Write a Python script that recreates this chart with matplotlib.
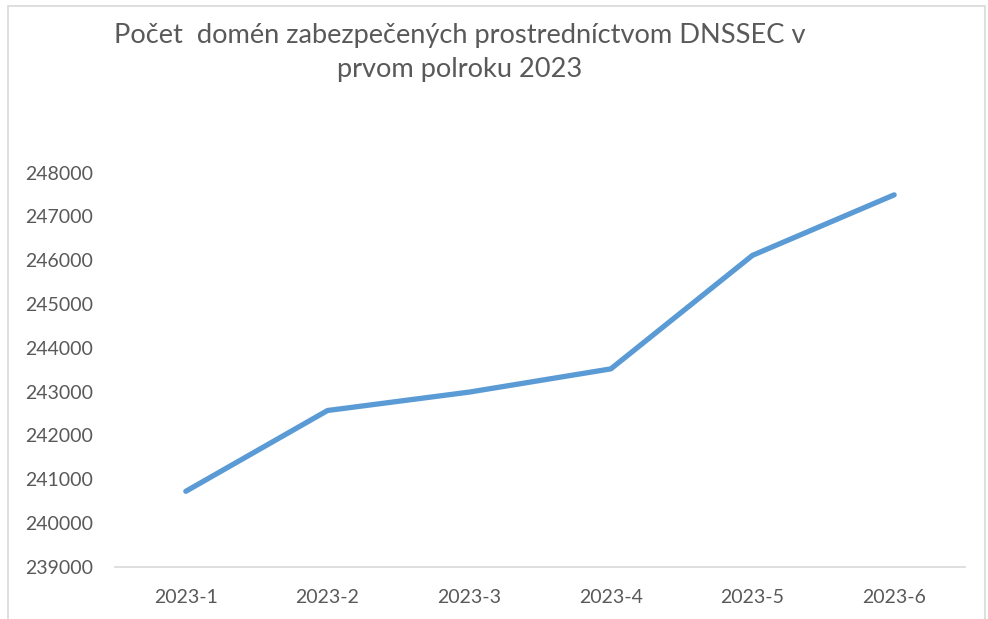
import matplotlib
matplotlib.use("Agg")
import matplotlib.pyplot as plt
from matplotlib.patches import Rectangle

categories = ["2023-1", "2023-2", "2023-3", "2023-4", "2023-5", "2023-6"]
values = [240727, 242570, 242990, 243520, 246110, 247490]
yticks = [239000, 240000, 241000, 242000, 243000, 244000, 245000, 246000, 247000, 248000]
title = "Počet  domén zabezpečených prostredníctvom DNSSEC v\nprvom polroku 2023"

W, H = 988, 619
plt.rcParams['font.family'] = ['Lato', 'DejaVu Sans']
fig = plt.figure(figsize=(W / 100, H / 100), dpi=100)
fig.patch.set_facecolor("white")

# chart border
fig.patches.append(Rectangle((8 / W, -0.05), (985 - 8) / W, 1.05 - 6 / H,
                             transform=fig.transFigure, fill=False,
                             edgecolor="#D9D9D9", linewidth=1.2))

ax = fig.add_axes([115 / W, 1 - 567 / H, (965 - 115) / W, (567 - 172.5) / H])
x = list(range(len(categories)))
ax.plot(x, values, color="#5B9BD5", linewidth=3.8, solid_capstyle="round",
        solid_joinstyle="round")
ax.set_xlim(-0.5, len(categories) - 0.5)
ax.set_ylim(239000, 248000)
ax.set_xticks(x)
ax.set_xticklabels(categories)
ax.set_yticks(yticks)
ax.set_yticklabels([str(v) for v in yticks])
for s in ["top", "right", "left"]:
    ax.spines[s].set_visible(False)
ax.spines["bottom"].set_color("#D9D9D9")
ax.spines["bottom"].set_linewidth(1.2)
ax.tick_params(length=0, colors="#595959", labelsize=14)
ax.tick_params(axis="y", pad=16)
ax.tick_params(axis="x", pad=16)
ax.set_facecolor("none")

fig.text(460 / W, 1 - 52.5 / H, title, ha="center", va="center",
         fontsize=19.6, color="#595959", linespacing=1.45)

fig.savefig("out.png", dpi=100, facecolor="white")
